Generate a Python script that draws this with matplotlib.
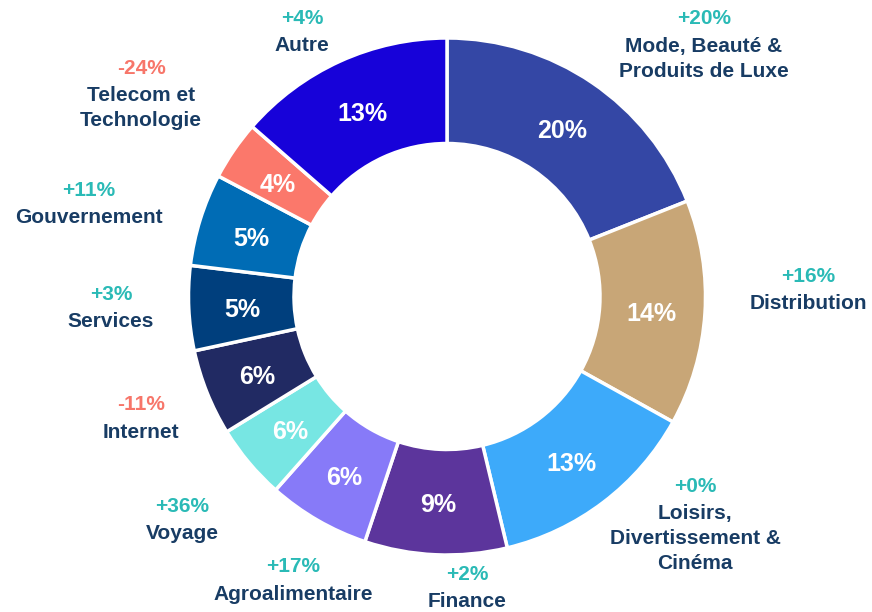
import numpy as np
import matplotlib.pyplot as plt

# Données du graphique
categories = ['Mode, Beauté &\nProduits de Luxe', 'Distribution',
              'Loisirs,\nDivertissement &\nCinéma', 'Finance', 'Agroalimentaire',
              'Voyage', 'Internet', 'Services', 'Gouvernement',
              'Telecom et\nTechnologie', 'Autre']
shares = [19.0, 14.1, 13.2, 8.9, 6.4, 4.7, 5.4, 5.3, 5.8, 3.7, 13.6]   # taille des parts
pct_labels = [20, 14, 13, 9, 6, 6, 6, 5, 5, 4, 13]                       # pourcentages affichés
changes = [20, 16, 0, 2, 17, 36, -11, 3, 11, -24, 4]                     # évolution
colors = ['#3447A5', '#C8A677', '#3DAAFA', '#5C359C', '#877AF8', '#77E6E3',
          '#212A63', '#003F7D', '#006CB5', '#FB786B', '#1702D9']

# Position des étiquettes extérieures (pixels, y vers le haut)
label_pos = [(704, 593), (808, 336), (695, 126), (467, 38), (293, 45), (182, 106),
             (141, 207), (111, 318), (89, 422), (141, 544), (302, 594)]

navy = '#183C64'
teal = '#2ABAB6'
red = '#F7766A'

plt.rcParams['font.family'] = ['Liberation Sans', 'DejaVu Sans']

fig = plt.figure(figsize=(8.72, 6.12), dpi=100)
ax = fig.add_axes([0, 0, 1, 1])

cx, cy, r_out, r_in = 447, 315.5, 258.5, 153
wedges, _ = ax.pie(shares, colors=colors, startangle=90, counterclock=False,
                   center=(cx, cy), radius=r_out,
                   wedgeprops=dict(width=r_out - r_in, edgecolor='white', linewidth=2.5))
ax.set_xlim(0, 872)
ax.set_ylim(0, 612)
ax.set_aspect('equal')
ax.axis('off')

# Pourcentages dans l'anneau
r_lab = 205
for w, p in zip(wedges, pct_labels):
    ang = np.deg2rad((w.theta1 + w.theta2) / 2)
    ax.text(cx + r_lab * np.cos(ang), cy + r_lab * np.sin(ang) - 4, f'{p}%',
            ha='center', va='center', color='white', fontsize=18, fontweight='bold')

# Étiquettes extérieures
for (x, y), name, ch in zip(label_pos, categories, changes):
    ax.text(x, y, f'{ch:+d}%', ha='center', va='center', fontsize=15,
            fontweight='bold', color=red if ch < 0 else teal)
    ax.text(x, y - 18, name, ha='center', va='top', fontsize=15,
            fontweight='bold', color=navy, linespacing=1.4)

fig.savefig('out.png', dpi=100)
